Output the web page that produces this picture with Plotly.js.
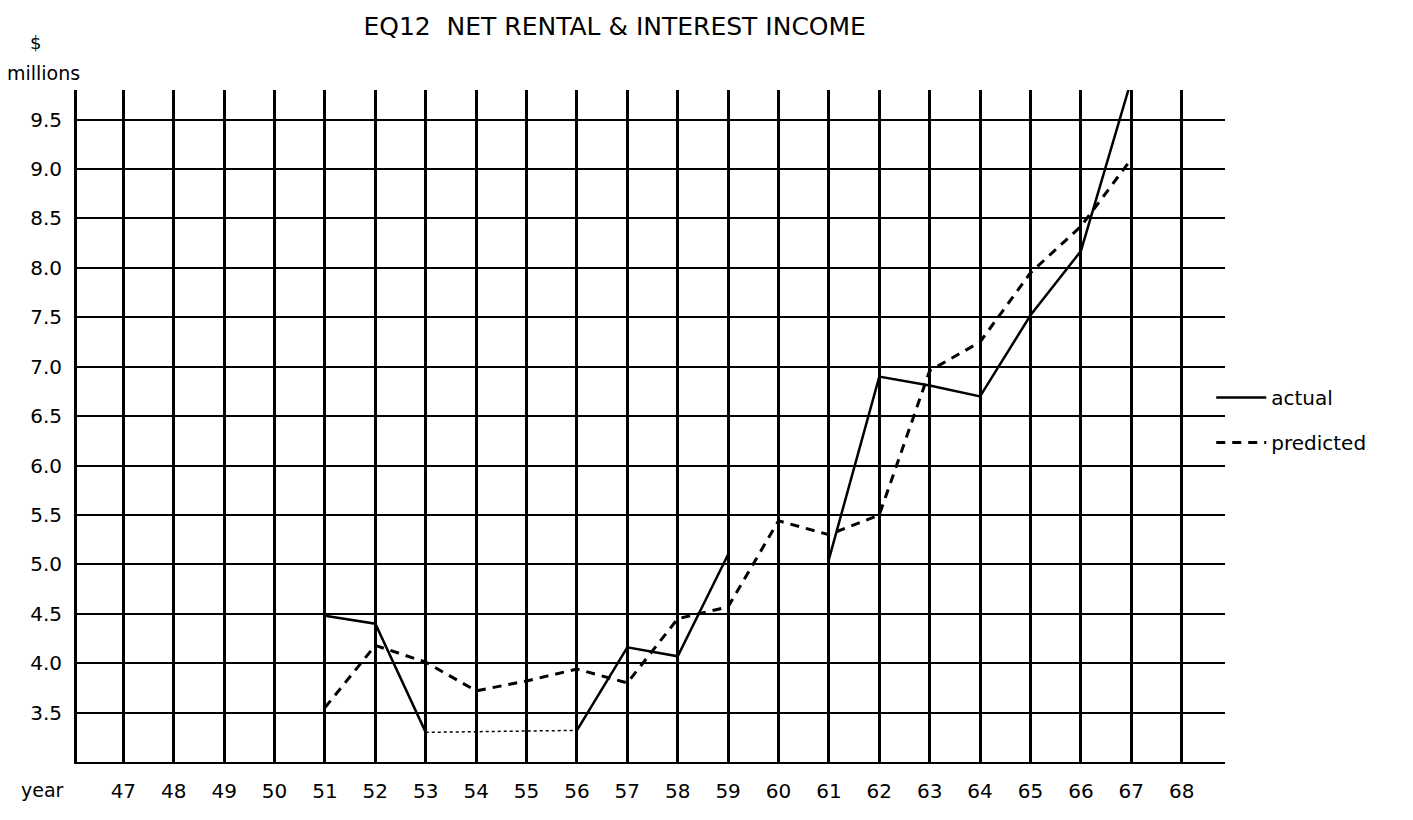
<!DOCTYPE html>
<html>
<head>
<meta charset="utf-8">
<script src="https://cdn.plot.ly/plotly-3.0.1.min.js"></script>
<style>html,body{margin:0;padding:0;background:#fff;}#chart{width:1413px;height:820px;}</style>
</head>
<body>
<div id="chart"></div>
<script>
// Years on the x axis
const years = [47,48,49,50,51,52,53,54,55,56,57,58,59,60,61,62,63,64,65,66,67,68];
// Actual net rental & interest income ($ millions); null = not drawn
const actual = [null,null,null,null,4.48,4.40,3.30,null,null,3.32,4.16,4.07,5.10,null,5.05,6.90,6.81,6.70,7.52,8.17,9.90,null];
// Predicted values (EQ12)
const predicted = [null,null,null,null,3.55,4.18,4.01,3.72,3.82,3.94,3.80,4.45,4.57,5.44,5.30,5.50,6.96,7.25,7.95,8.42,9.10,null];
// Years joined by the thin dotted stretch of the actual curve
const gapYears = [53,56];
// Axis tick labels
const yTicks = [3.5,4.0,4.5,5.0,5.5,6.0,6.5,7.0,7.5,8.0,8.5,9.0,9.5];
const yTickText = ["3.5","4.0","4.5","5.0","5.5","6.0","6.5","7.0","7.5","8.0","8.5","9.0","9.5"];
const xTickText = years.map(String);

const gapY = gapYears.map(y => actual[years.indexOf(y)]);
const FONT = "DejaVu Sans, Liberation Sans, sans-serif";

const traces = [
  {x: years, y: actual, type: "scatter", mode: "lines", name: "actual",
   legendgroup: "a", line: {color: "#000", width: 2.5}, cliponaxis: false, connectgaps: false},
  {x: years, y: predicted, type: "scatter", mode: "lines", name: "predicted",
   legendgroup: "p", line: {color: "#000", width: 3, dash: "9px,7px"}, cliponaxis: false, connectgaps: false},
  {x: gapYears, y: gapY, type: "scatter", mode: "lines", showlegend: false,
   line: {color: "#000", width: 1.5, dash: "dot"}, hoverinfo: "skip"}
];

const layout = {
  width: 1413, height: 820,
  margin: {l: 77, r: 188, t: 90, b: 58},
  paper_bgcolor: "#fff", plot_bgcolor: "#fff",
  font: {family: FONT, color: "#000", size: 20},
  title: {text: "EQ12&nbsp;&nbsp;NET RENTAL &amp; INTEREST INCOME", font: {family: FONT, size: 25, color: "#000"},
          xref: "container", x: 0.435, xanchor: "center", yref: "container", y: 0.968, yanchor: "middle"},
  xaxis: {range: [46.08, 68.86], tickvals: years, ticktext: xTickText,
          showgrid: true, gridcolor: "#000", gridwidth: 3,
          showline: true, linecolor: "#000", linewidth: 2, mirror: false,
          zeroline: false, ticks: "", ticklabelstandoff: 10,
          tickfont: {family: FONT, size: 20, color: "#000"}},
  yaxis: {range: [3.0, 9.80], tickvals: yTicks, ticktext: yTickText,
          showgrid: true, gridcolor: "#000", gridwidth: 2,
          showline: true, linecolor: "#000", linewidth: 3,
          zeroline: false, ticks: "", ticklabelstandoff: 8,
          tickfont: {family: FONT, size: 20, color: "#000"}},
  showlegend: true,
  legend: {x: 0.988, xanchor: "left", y: 0.509, yanchor: "middle",
           traceorder: "grouped", tracegroupgap: 16, itemwidth: 50,
           bgcolor: "rgba(0,0,0,0)", font: {family: FONT, size: 20, color: "#000"}},
  annotations: [
    {text: "$", xref: "paper", yref: "paper", x: -0.036, y: 1.071, xanchor: "center", yanchor: "middle", showarrow: false,
     font: {family: FONT, size: 18, color: "#000"}},
    {text: "millions", xref: "paper", yref: "paper", x: -0.029, y: 1.025, xanchor: "center", yanchor: "middle", showarrow: false,
     font: {family: FONT, size: 19, color: "#000"}},
    {text: "year", xref: "paper", yref: "paper", x: -0.030, y: -0.042, xanchor: "center", yanchor: "middle", showarrow: false,
     font: {family: FONT, size: 19, color: "#000"}}
  ]
};

Plotly.newPlot("chart", traces, layout, {displayModeBar: false, staticPlot: true});
</script>
</body>
</html>
